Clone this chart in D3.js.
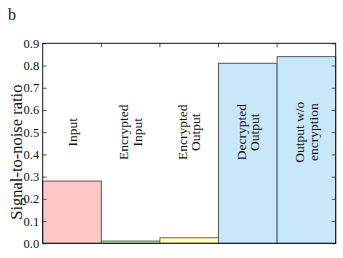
<!DOCTYPE html>
<html><head><meta charset="utf-8">
<script src="https://cdn.jsdelivr.net/npm/d3@7/dist/d3.min.js"></script>
<style>body{margin:0;background:#fff}svg{display:block}svg text{font-family:"Liberation Serif","Times New Roman",serif;fill:#111}</style>
</head><body>
<script>
const categories = ["Input", "Encrypted Input", "Encrypted Output", "Decrypted Output", "Output w/o encryption"];
const labelLines = [["Input"], ["Encrypted", "Input"], ["Encrypted", "Output"], ["Decrypted", "Output"], ["Output w/o", "encryption"]];
const values = [0.28, 0.01, 0.025, 0.81, 0.84];
const fills = ["#ffc8c8", "#c8f0c8", "#ffffc0", "#c8e8fa", "#c8e8fa"];
const strokes = ["#6a4a4a", "#4a6a4a", "#6a6a40", "#4a5a66", "#4a5a66"];
const yTicks = [0.0, 0.1, 0.2, 0.3, 0.4, 0.5, 0.6, 0.7, 0.8, 0.9];

const W = 343, H = 258;
const m = {l: 42.7, r: 343 - 335.7, t: 43.3, b: 258 - 243.3};
const svg = d3.select("body").append("svg").attr("width", W).attr("height", H)
  .attr("font-family", "Liberation Serif, serif");
const x = d3.scaleBand().domain(categories).range([m.l, W - m.r]).padding(0);
const y = d3.scaleLinear().domain([0, 0.9]).range([H - m.b, m.t]);

// bars
svg.append("g").selectAll("rect").data(values).join("rect")
  .attr("x", (d, i) => x(categories[i]))
  .attr("y", d => y(d))
  .attr("width", x.bandwidth())
  .attr("height", d => y(0) - y(d))
  .attr("fill", (d, i) => fills[i])
  .attr("stroke", (d, i) => strokes[i])
  .attr("stroke-width", 1);

// left axis
const gl = svg.append("g").attr("transform", `translate(${m.l},0)`)
  .call(d3.axisLeft(y).tickValues(yTicks).tickFormat(d3.format(".1f")).tickSizeInner(-4).tickSizeOuter(0).tickPadding(3.5));
gl.attr("font-family", null).attr("font-size", null);
gl.select(".domain").remove();
gl.selectAll(".tick line").attr("stroke", "#555");
gl.selectAll(".tick text").style("font-size", "12.5px").attr("fill", "#333");

// right axis ticks
const gr = svg.append("g").attr("transform", `translate(${W - m.r},0)`)
  .call(d3.axisRight(y).tickValues(yTicks).tickSizeInner(-4).tickSizeOuter(0).tickFormat(""));
gr.select(".domain").remove();
gr.selectAll(".tick line").attr("stroke", "#555");

// top ticks at bar boundaries
const bounds = categories.slice(1).map(c => x(c));
svg.append("g").selectAll("line").data(bounds).join("line")
  .attr("x1", d => d).attr("x2", d => d)
  .attr("y1", m.t).attr("y2", m.t + 4)
  .attr("stroke", "#555");

// frame
svg.append("rect").attr("x", m.l).attr("y", m.t)
  .attr("width", W - m.l - m.r).attr("height", H - m.t - m.b)
  .attr("fill", "none").attr("stroke", "#111").attr("stroke-width", 1);

// bar labels
const lh = 13.5;
labelLines.forEach((lines, i) => {
  const cx = x(categories[i]) + x.bandwidth() / 2;
  const cy = y(0.5);
  const n = lines.length;
  lines.forEach((t, j) => {
    const off = (j - (n - 1) / 2) * lh;
    svg.append("text")
      .attr("transform", `translate(${cx + off + 4.5},${cy}) rotate(-90)`)
      .attr("text-anchor", "middle")
      .style("font-size", "13.5px")
      .text(t);
  });
});

// y label
svg.append("text")
  .attr("transform", `translate(${22},${y(0.41)}) rotate(-90)`)
  .attr("text-anchor", "middle")
  .style("font-size", "16.5px")
  .text("Signal-to-noise ratio");

// panel letter
svg.append("text").attr("x", 8).attr("y", 20).style("font-size", "16px").text("b");
</script>
</body></html>
